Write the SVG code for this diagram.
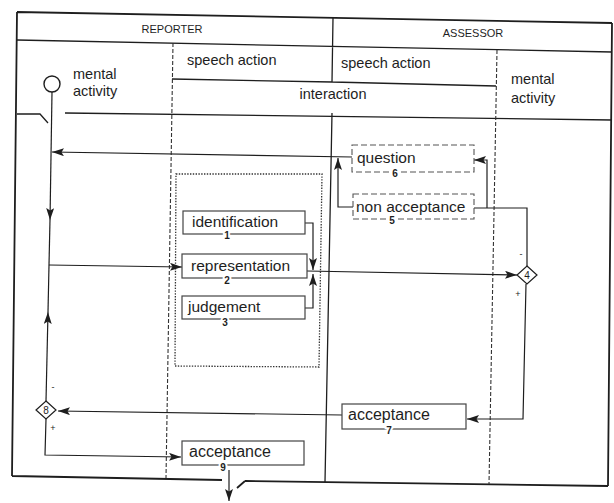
<svg xmlns="http://www.w3.org/2000/svg" width="614" height="503" viewBox="0 0 614 503">
<defs>
<style>
text{font-family:"Liberation Sans",Arial,sans-serif;fill:#1e1e1e}
.hd{font-size:11px}
.lb{font-size:14.5px}
.bx{font-size:15.5px}
.bx2{font-size:16px}
.num{font-size:10px;font-weight:bold;text-anchor:middle;paint-order:stroke;stroke:#fff;stroke-width:4px}
.sg{font-size:9px;text-anchor:middle}
.dg{font-size:10px;text-anchor:middle}
.frame{fill:none;stroke:#1e1e1e;stroke-width:1.8}
.thin{fill:none;stroke:#1e1e1e;stroke-width:1.3}
.dash{fill:none;stroke:#333;stroke-width:1.1;stroke-dasharray:4 2}
.dot{fill:none;stroke:#333;stroke-width:1.3;stroke-dasharray:1.4 1.4}
.box{fill:#fff;stroke:#444;stroke-width:1.2}
.dbox{fill:#fff;stroke:#555;stroke-width:1.1;stroke-dasharray:6 3}
.con{fill:none;stroke:#1e1e1e;stroke-width:1.2}
.arr{fill:none;stroke:#1e1e1e;stroke-width:1.2;marker-end:url(#ah)}
.dia{fill:#fff;stroke:#1e1e1e;stroke-width:1.2}
</style>
<marker id="ah" viewBox="0 0 12 8" refX="12" refY="4" markerWidth="12" markerHeight="8" orient="auto" markerUnits="userSpaceOnUse">
<path d="M0,0 L12,4 L0,8 L2.5,4 z" fill="#1e1e1e"/>
</marker>
</defs>

<g id="frame">
<path class="frame" d="M17,12 L612,23 M17,12 L12,476 M612,23 L608,486 M12,476 L222,480 M245,481 L608,486 M237,488 L245,481"/>
<path class="thin" d="M17,40 L612,52 M333,18 L332,82 M172,79 L332,82 L496,86 M65,113 L612,120 M17,114 L40,114 L48,123 M332,113 L325,482"/>
<path class="dash" d="M173,43 L166,478 M497,50 L489,484"/>
<text class="hd" x="172" y="33" text-anchor="middle">REPORTER</text>
<text class="hd" x="473" y="37" text-anchor="middle">ASSESSOR</text>
<text class="lb" x="73" y="79">mental</text>
<text class="lb" x="73" y="96">activity</text>
<text class="lb" x="187" y="65">speech action</text>
<text class="lb" x="341" y="68">speech action</text>
<text class="lb" x="333" y="99" text-anchor="middle">interaction</text>
<text class="lb" x="511" y="84">mental</text>
<text class="lb" x="511" y="103">activity</text>
<path class="dot" d="M176,174 L322,174 L319,367 L175,366 Z"/>
</g>

<g id="connectors">
<path class="arr" d="M52,92 L50,220"/>
<path class="con" d="M50,220 L49,265"/>
<path class="arr" d="M49,265 L182,267"/>
<path class="arr" d="M352,157 L52,152"/>
<path class="arr" d="M353,207 L338,207 L338,158"/>
<path class="con" d="M527,266 L527,208 L474,208"/>
<path class="arr" d="M487,208 L487,160 L474,160"/>
<path class="arr" d="M305,223 L313,223 L313,270"/>
<path class="arr" d="M305,308 L313,308 L313,274"/>
<path class="arr" d="M307,271 L517,275"/>
<path class="arr" d="M526,284 L523,419 L467,419"/>
<path class="arr" d="M342,415 L58,411"/>
<path class="arr" d="M46,401 L48,312"/>
<path class="con" d="M48,312 L49,265"/>
<path class="arr" d="M46,419 L45,455 L181,457"/>
<path class="arr" d="M229,470 L229,501"/>
<text class="sg" x="521" y="257">-</text>
<text class="sg" x="518" y="297">+</text>
<text class="sg" x="53" y="390">-</text>
<text class="sg" x="53" y="431">+</text>
</g>

<g id="start">
<circle cx="52" cy="84" r="8" fill="#fff" stroke="#1e1e1e" stroke-width="1.4"/>
</g>

<g id="n1">
<rect class="box" x="183" y="211" width="122" height="23"/>
<text class="bx" x="192" y="227">identification</text>
<text class="num" x="227" y="239">1</text>
</g>
<g id="n2">
<rect class="box" x="182" y="254" width="125" height="24"/>
<text class="bx" x="191" y="271">representation</text>
<text class="num" x="227" y="284">2</text>
</g>
<g id="n3">
<rect class="box" x="182" y="296" width="123" height="23"/>
<text class="bx" x="188" y="312">judgement</text>
<text class="num" x="225" y="326">3</text>
</g>
<g id="n4">
<polygon class="dia" points="527,266 537,275 527,284 517,275"/>
<text class="dg" x="527" y="279">4</text>
</g>
<g id="n5">
<rect class="dbox" x="353" y="194" width="121" height="25"/>
<text class="bx" x="356" y="212">non acceptance</text>
<text class="num" x="392" y="224">5</text>
</g>
<g id="n6">
<rect class="dbox" x="352" y="145" width="122" height="27"/>
<text class="bx" x="357" y="163">question</text>
<text class="num" x="395" y="177">6</text>
</g>
<g id="n7">
<rect class="box" x="342" y="404" width="124" height="25"/>
<text class="bx2" x="348" y="420">acceptance</text>
<text class="num" x="389" y="434">7</text>
</g>
<g id="n8">
<polygon class="dia" points="46,401 56,410 46,419 36,410"/>
<text class="dg" x="46" y="414">8</text>
</g>
<g id="n9">
<rect class="box" x="182" y="441" width="122" height="24"/>
<text class="bx2" x="189" y="457">acceptance</text>
<text class="num" x="223" y="471">9</text>
</g>
</svg>
